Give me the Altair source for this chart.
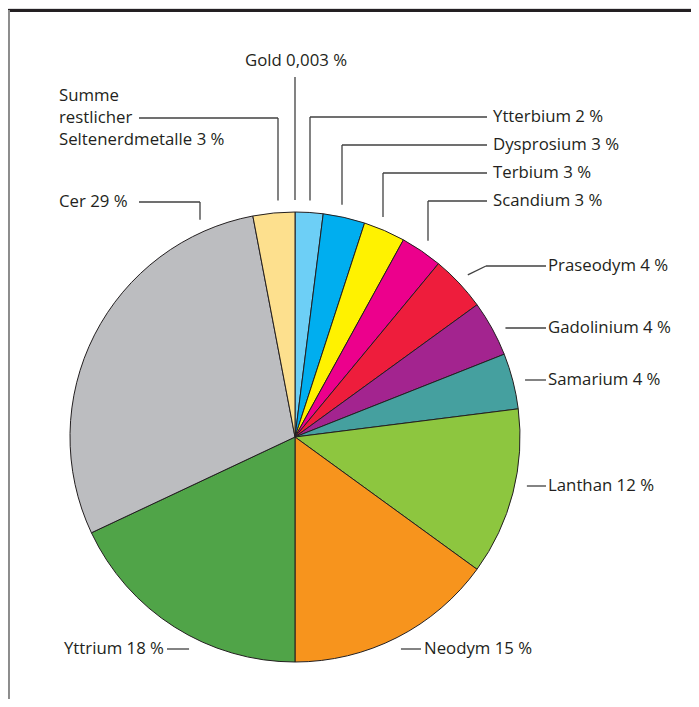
import math
import altair as alt
import pandas as pd

# ---------------- data ----------------
elements = ["Gold", "Ytterbium", "Dysprosium", "Terbium", "Scandium", "Praseodym",
            "Gadolinium", "Samarium", "Lanthan", "Neodym", "Yttrium", "Cer",
            "Summe restlicher Seltenerdmetalle"]
shares = [0.003, 2, 3, 3, 3, 4, 4, 4, 12, 15, 18, 29, 3]
labels = ["Gold 0,003 %", "Ytterbium 2 %", "Dysprosium 3 %", "Terbium 3 %", "Scandium 3 %",
          "Praseodym 4 %", "Gadolinium 4 %", "Samarium 4 %", "Lanthan 12 %", "Neodym 15 %",
          "Yttrium 18 %", "Cer 29 %", "Summe\nrestlicher\nSeltenerdmetalle 3 %"]

# ---------------- style / layout ----------------
palette = ["#fde08e", "#6dcff6", "#00aeef", "#fff200", "#ec008c", "#ee1d3c",
           "#a3248f", "#45a09f", "#8dc63f", "#f7941d", "#50a448", "#bcbdc0", "#fde08e"]
INK = "#231f20"
LEAD = "#404040"
FONT = "Open Sans"
FS = 16.8
LH = 22

W, H = 683, 691          # plot area (page minus 8px margin)
OFF = 8
CX, CY, R = 295, 437, 225  # page coordinates of the pie
RG = R + 12

# label layout: (x, y, align, leader kind, params)
layout = {
    "Gold": (296, 61, "center", "vline", {"x": 295, "top": 77}),
    "Ytterbium": (493, 117, "left", "elbow", {"ax": 310, "hx": 487}),
    "Dysprosium": (493, 145, "left", "elbow", {"ax": 342, "hx": 487}),
    "Terbium": (493, 173, "left", "elbow", {"ax": 383, "hx": 487}),
    "Scandium": (493, 201, "left", "elbow", {"ax": 428, "hx": 487}),
    "Praseodym": (548, 266, "left", "diag", {"kx": 486, "hx": 546}),
    "Gadolinium": (548, 328, "left", "horiz", {"side": 1, "hx": 546}),
    "Samarium": (548, 380, "left", "horiz", {"side": 1, "hx": 546}),
    "Lanthan": (548, 486, "left", "horiz", {"side": 1, "hx": 546}),
    "Neodym": (424, 649, "left", "horiz", {"side": 1, "hx": 421}),
    "Yttrium": (164, 649, "right", "horiz", {"side": -1, "hx": 167}),
    "Cer": (59, 202, "left", "elbow", {"ax": 200, "hx": 139}),
    "Summe restlicher Seltenerdmetalle": (59, 118, "left", "elbow", {"ax": 278, "hx": 139}),
}
# leader is at the middle line of a multi-line label
text_shift = {e: -LH * (lab.count("\n") // 2) for e, lab in zip(elements, labels)}

total = sum(shares)
cum = 0.0
mids = {}
for e, v in zip(elements, shares):
    mids[e] = (cum + v / 2) / total * 2 * math.pi
    cum += v

segs = []
def seg(a, b):
    segs.append({"x": a[0] - OFF, "y": a[1] - OFF, "x2": b[0] - OFF, "y2": b[1] - OFF})

for e in elements:
    lx, ly, al, kind, p = layout[e]
    if kind == "vline":
        seg((p["x"], CY - math.sqrt(RG**2 - (p["x"] - CX) ** 2)), (p["x"], p["top"]))
    elif kind == "elbow":
        y0 = CY - math.sqrt(RG**2 - (p["ax"] - CX) ** 2)
        seg((p["ax"], y0), (p["ax"], ly))
        seg((p["ax"], ly), (p["hx"], ly))
    elif kind == "horiz":
        x0 = CX + p["side"] * math.sqrt(RG**2 - (ly - CY) ** 2)
        seg((x0, ly), (p["hx"], ly))
    elif kind == "diag":
        a = mids[e]
        start = (CX + RG * math.sin(a), CY - RG * math.cos(a))
        seg(start, (p["kx"], ly))
        seg((p["kx"], ly), (p["hx"], ly))

arc_df = pd.DataFrame({"element": elements, "share": shares, "idx": list(range(len(elements)))})
txt_df = pd.DataFrame({
    "label": labels,
    "x": [layout[e][0] - OFF for e in elements],
    "y": [layout[e][1] - OFF + text_shift[e] for e in elements],
    "align": [layout[e][2] for e in elements],
})
seg_df = pd.DataFrame(segs)

xs = alt.Scale(domain=[0, W], range=[0, W], nice=False, zero=False)
ys = alt.Scale(domain=[0, H], range=[0, H], nice=False, zero=False)

pie = alt.Chart(arc_df).mark_arc(stroke=INK, strokeWidth=1, outerRadius=R).encode(
    theta=alt.Theta("share:Q", stack=True),
    order=alt.Order("idx:Q"),
    color=alt.Color("element:N", scale=alt.Scale(domain=elements, range=palette), legend=None),
    x=alt.value(CX - OFF),
    y=alt.value(CY - OFF),
)

leaders = alt.Chart(seg_df).mark_rule(color=LEAD, strokeWidth=1.3).encode(
    x=alt.X("x:Q", scale=xs, axis=None),
    y=alt.Y("y:Q", scale=ys, axis=None),
    x2="x2:Q",
    y2="y2:Q",
)

def text_layer(align):
    return alt.Chart(txt_df[txt_df["align"] == align]).mark_text(
        align=align, baseline="middle", font=FONT, fontSize=FS, color=INK,
        lineBreak="\n", lineHeight=LH,
    ).encode(
        x=alt.X("x:Q", scale=xs, axis=None),
        y=alt.Y("y:Q", scale=ys, axis=None),
        text="label:N",
    )

frame_top = alt.Chart(arc_df).mark_rule(color=INK, strokeWidth=1.5).encode(
    x=alt.value(0), x2=alt.value(W + 8), y=alt.value(2.5), y2=alt.value(2.5))
frame_left = alt.Chart(arc_df).mark_rule(color="#8c8c8c", strokeWidth=1.5).encode(
    x=alt.value(0.5), x2=alt.value(0.5), y=alt.value(2), y2=alt.value(H + 8))

chart = alt.layer(
    pie, leaders, text_layer("left"), text_layer("center"), text_layer("right"),
    frame_top, frame_left,
).properties(
    width=W, height=H, padding=0, autosize=alt.AutoSizeParams(type="none"),
).configure_view(stroke=None).configure(background="white")

chart.save("out.html", embed_options={"renderer": "svg", "actions": False})
